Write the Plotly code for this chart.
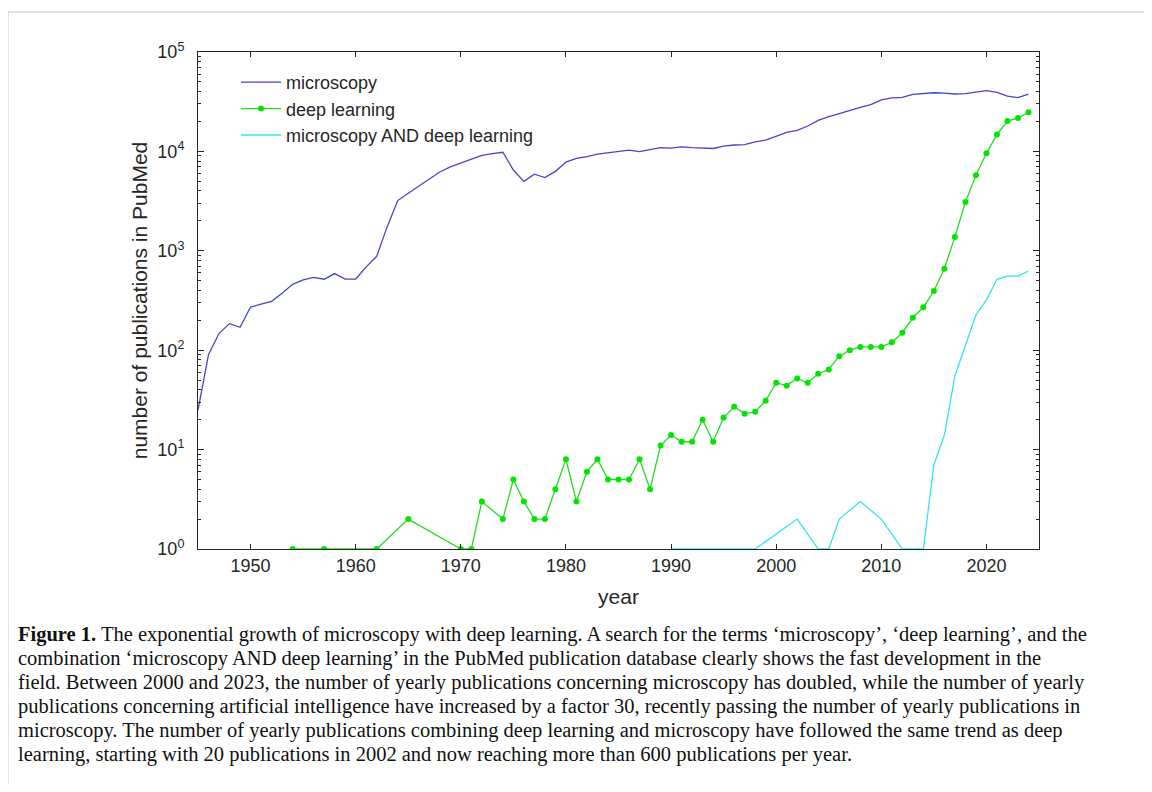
import plotly.graph_objects as go

# ---------------- data ----------------
micro_years = [1945, 1946, 1947, 1948, 1949, 1950, 1951, 1952, 1953, 1954,
               1955, 1956, 1957, 1958, 1959, 1960, 1961, 1962, 1963, 1964,
               1965, 1966, 1967, 1968, 1969, 1970, 1971, 1972, 1973, 1974,
               1975, 1976, 1977, 1978, 1979, 1980, 1981, 1982, 1983, 1984,
               1985, 1986, 1987, 1988, 1989, 1990, 1991, 1992, 1993, 1994,
               1995, 1996, 1997, 1998, 1999, 2000, 2001, 2002, 2003, 2004,
               2005, 2006, 2007, 2008, 2009, 2010, 2011, 2012, 2013, 2014,
               2015, 2016, 2017, 2018, 2019, 2020, 2021, 2022, 2023, 2024]
micro_counts = [25, 90, 148, 185, 170, 272, 290, 310, 375, 460,
                510, 540, 518, 590, 520, 520, 690, 880, 1750, 3200,
                3800, 4500, 5250, 6200, 7000, 7600, 8300, 9100, 9500, 9800,
                6500, 5000, 5900, 5450, 6300, 7800, 8500, 8850, 9400, 9700,
                10000, 10300, 9950, 10500, 10900, 10800, 11100, 10900, 10800, 10700,
                11300, 11600, 11700, 12500, 13000, 14300, 15500, 16300, 18000, 20500,
                22400, 24000, 26000, 27800, 29500, 33000, 34500, 35000, 37500, 38500,
                38900, 38500, 37800, 38200, 39300, 40800, 39200, 36000, 34800, 37600]

dl_years = [1954, 1957, 1962, 1965, 1970, 1971, 1972, 1974, 1975, 1976,
            1977, 1978, 1979, 1980, 1981, 1982, 1983, 1984, 1985, 1986,
            1987, 1988, 1989, 1990, 1991, 1992, 1993, 1994, 1995, 1996,
            1997, 1998, 1999, 2000, 2001, 2002, 2003, 2004, 2005, 2006,
            2007, 2008, 2009, 2010, 2011, 2012, 2013, 2014, 2015, 2016,
            2017, 2018, 2019, 2020, 2021, 2022, 2023, 2024]
dl_counts = [1, 1, 1, 2, 1, 1, 3, 2, 5, 3,
             2, 2, 4, 8, 3, 6, 8, 5, 5, 5,
             8, 4, 11, 14, 12, 12, 20, 12, 21, 27,
             23, 24, 31, 47, 44, 52, 47, 58, 64, 87,
             100, 108, 108, 108, 120, 150, 212, 270, 394, 660,
             1380, 3100, 5750, 9560, 14800, 20200, 21700, 24700]

both_years = [1990, 1998, 2002, 2004, 2005, 2006, 2008, 2010, 2012, 2014,
              2015, 2016, 2017, 2018, 2019, 2020, 2021, 2022, 2023, 2024]
both_counts = [1, 1, 2, 1, 1, 2, 3, 2, 1, 1,
               7, 14, 55, 110, 226, 320, 517, 557, 557, 626]

x_ticks = [1950, 1960, 1970, 1980, 1990, 2000, 2010, 2020]
y_ticks = [1, 10, 100, 1000, 10000, 100000]
y_ticktext = ["10<sup>0</sup>", "10<sup>1</sup>", "10<sup>2</sup>",
              "10<sup>3</sup>", "10<sup>4</sup>", "10<sup>5</sup>"]
y_minor = [m * d for d in [1, 10, 100, 1000, 10000] for m in range(2, 10)]

caption_lines = [
    "<b>Figure 1.</b> The exponential growth of microscopy with deep learning. A search for the terms ‘microscopy’, ‘deep learning’, and the",
    "combination ‘microscopy AND deep learning’ in the PubMed publication database clearly shows the fast development in the",
    "field. Between 2000 and 2023, the number of yearly publications concerning microscopy has doubled, while the number of yearly",
    "publications concerning artificial intelligence have increased by a factor 30, recently passing the number of yearly publications in",
    "microscopy. The number of yearly publications combining deep learning and microscopy have followed the same trend as deep",
    "learning, starting with 20 publications in 2002 and now reaching more than 600 publications per year.",
]

# ---------------- figure ----------------
OFF = 8                       # default page body margin
W, H = 1152 - 2 * OFF, 792 - 2 * OFF
L, T = 198 - OFF, 52 - OFF
R = W - (1039 - OFF)
B = H - (549 - OFF)
PW, PH = W - L - R, H - T - B
AX = "#262626"
FONT = "Liberation Sans, Arial, Helvetica, sans-serif"


def px2paper_x(px):
    """page pixel -> paper coordinate"""
    return (px - OFF - L) / PW


def px2paper_y(py):
    return (H - B - (py - OFF)) / PH


fig = go.Figure()
fig.add_trace(go.Scatter(x=micro_years, y=micro_counts, mode="lines",
                         name="microscopy",
                         line=dict(color="#4646c8", width=1.3)))
fig.add_trace(go.Scatter(x=dl_years, y=dl_counts, mode="lines+markers",
                         name="deep learning",
                         line=dict(color="#22dd22", width=1.3),
                         marker=dict(color="#00e600", size=6)))
fig.add_trace(go.Scatter(x=both_years, y=both_counts, mode="lines",
                         name="microscopy AND deep learning",
                         line=dict(color="#33e3f0", width=1.3)))

fig.update_layout(
    width=W, height=H, autosize=False,
    margin=dict(l=L, r=R, t=T, b=B),
    paper_bgcolor="white", plot_bgcolor="white",
    font=dict(family=FONT, color=AX, size=18),
    showlegend=True,
    legend=dict(x=px2paper_x(236), y=px2paper_y(64), xanchor="left", yanchor="top",
                bgcolor="rgba(0,0,0,0)", borderwidth=0,
                font=dict(size=18, family=FONT, color=AX),
                tracegroupgap=0, itemwidth=40),
)

fig.update_xaxes(
    range=[1945, 2025], tickvals=x_ticks,
    ticks="inside", ticklen=5, tickwidth=1, tickcolor=AX,
    showline=True, linecolor=AX, linewidth=1, mirror="ticks",
    showgrid=False, zeroline=False,
    tickfont=dict(size=18, family=FONT, color=AX),
    ticklabelstandoff=0,
    title=dict(text="year", font=dict(size=21, family=FONT, color=AX), standoff=14),
)
fig.update_yaxes(
    type="log", range=[0, 5], tickvals=y_ticks, ticktext=y_ticktext,
    ticks="inside", ticklen=6, tickwidth=1, tickcolor=AX,
    showline=True, linecolor=AX, linewidth=1, mirror="ticks",
    showgrid=False, zeroline=False,
    tickfont=dict(size=18, family=FONT, color=AX),
    ticklabelstandoff=9,
    minor=dict(tickvals=y_minor, ticks="inside", ticklen=3, tickwidth=1,
               tickcolor=AX, showgrid=False),
    title=dict(text="number of publications in PubMed",
               font=dict(size=21, family=FONT, color=AX), standoff=4),
)

# caption
for i, line in enumerate(caption_lines):
    fig.add_annotation(
        text=line, xref="paper", yref="paper",
        x=px2paper_x(16), y=px2paper_y(634 + 24 * i),
        xanchor="left", yanchor="middle", showarrow=False, align="left",
        font=dict(family="Liberation Serif, Times New Roman, serif", size=20.5, color="#111111"),
    )

# outer frame: only the top and left edges, as in the reference page
fx0, fx1 = px2paper_x(OFF), px2paper_x(1160)
fy_top, fy_bot = px2paper_y(12), px2paper_y(800)
fig.add_shape(type="path", xref="paper", yref="paper",
              path=f"M {fx0},{fy_bot} L {fx0},{fy_top} L {fx1},{fy_top}",
              line=dict(color="#c8c8c8", width=1), layer="below")

fig.write_html("out.html")
